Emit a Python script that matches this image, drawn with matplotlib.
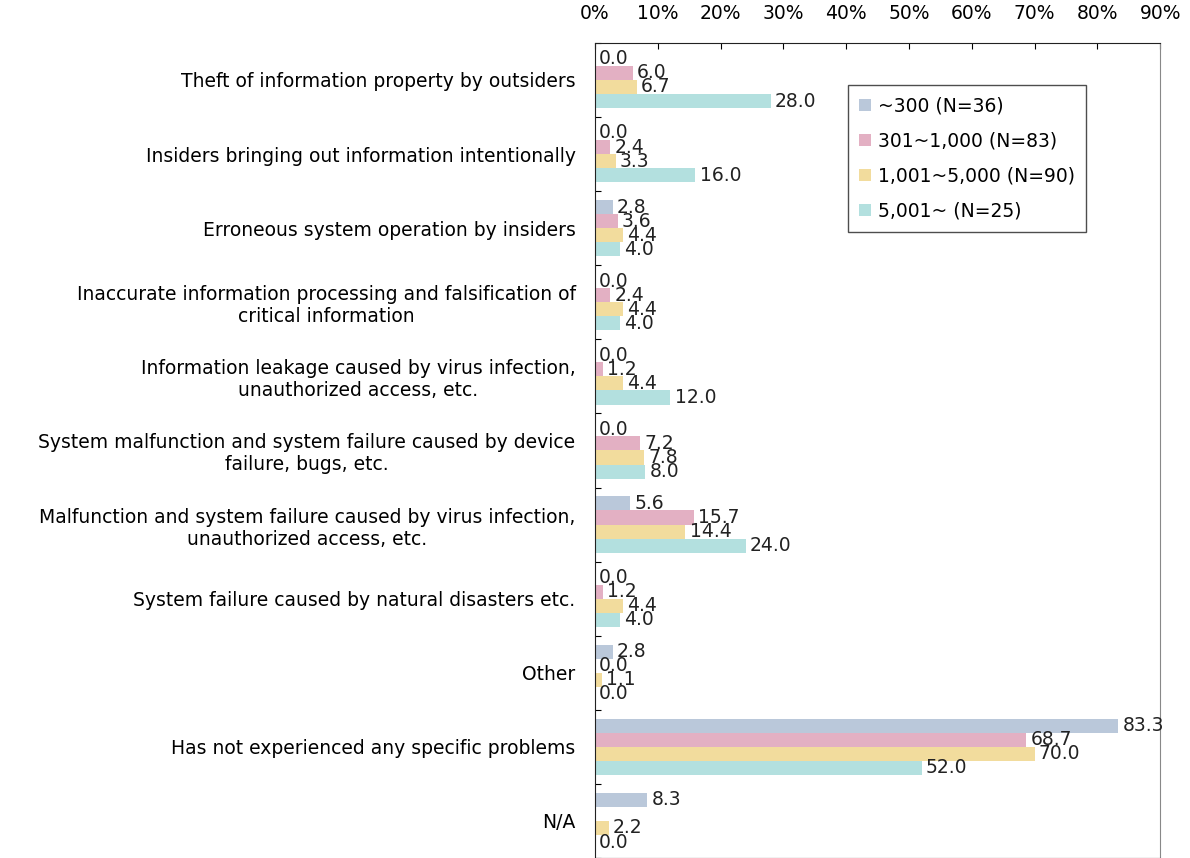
import matplotlib
matplotlib.use('Agg')
import matplotlib.pyplot as plt
import numpy as np

categories = [
    'Theft of information property by outsiders',
    'Insiders bringing out information intentionally',
    'Erroneous system operation by insiders',
    'Inaccurate information processing and falsification of\ncritical information',
    'Information leakage caused by virus infection,\nunauthorized access, etc.',
    'System malfunction and system failure caused by device\nfailure, bugs, etc.',
    'Malfunction and system failure caused by virus infection,\nunauthorized access, etc.',
    'System failure caused by natural disasters etc.',
    'Other',
    'Has not experienced any specific problems',
    'N/A',
]
series_names = ['~300 (N=36)', '301~1,000 (N=83)', '1,001~5,000 (N=90)', '5,001~ (N=25)']
s_300 = [0.0, 0.0, 2.8, 0.0, 0.0, 0.0, 5.6, 0.0, 2.8, 83.3, 8.3]
s_1000 = [6.0, 2.4, 3.6, 2.4, 1.2, 7.2, 15.7, 1.2, 0.0, 68.7, np.nan]
s_5000 = [6.7, 3.3, 4.4, 4.4, 4.4, 7.8, 14.4, 4.4, 1.1, 70.0, 2.2]
s_5001 = [28.0, 16.0, 4.0, 4.0, 12.0, 8.0, 24.0, 4.0, 0.0, 52.0, 0.0]
xticks = [0, 10, 20, 30, 40, 50, 60, 70, 80, 90]

colors = ['#bac8da', '#e3b0c3', '#f2dc9d', '#b3e0df']
series = [s_300, s_1000, s_5000, s_5001]
fs = 13.5

plt.rcParams['font.family'] = ['DejaVu Sans']
fig = plt.figure(figsize=(11.9, 8.58), dpi=100)
ax = fig.add_axes([0.5, 0.0, 0.475, 0.95])

ypos = np.arange(len(categories))
h = 0.19
offsets = [-1.5 * h, -0.5 * h, 0.5 * h, 1.5 * h]
for vals, name, col, off in zip(series, series_names, colors, offsets):
    vals = np.array(vals, dtype=float)
    ok = ~np.isnan(vals)
    ax.barh(ypos[ok] + off, vals[ok], height=h, color=col, label=name)
    for y, v in zip(ypos[ok] + off, vals[ok]):
        ax.annotate('%.1f' % v, (v, y), xytext=(3, 0), textcoords='offset points',
                    ha='left', va='center', fontsize=fs, color='#222222')

ax.set_ylim(len(categories) - 0.5, -0.5)
ax.set_xlim(0, 90)
ax.set_xticks(xticks)
ax.set_xticklabels(['%d%%' % t for t in xticks], fontsize=fs)
ax.xaxis.tick_top()
ax.tick_params(axis='x', direction='in', length=4, pad=14, top=True, bottom=False)

ax.set_yticks(np.arange(len(categories) + 1) - 0.5)
ax.set_yticklabels([])
ax.set_yticks(ypos, minor=True)
ax.set_yticklabels(categories, minor=True, fontsize=fs, multialignment='center')
ax.tick_params(axis='y', which='major', direction='in', length=4)
ax.tick_params(axis='y', which='minor', length=0, pad=14)

ax.spines['left'].set_color('#222222')
ax.spines['top'].set_color('#222222')
ax.spines['right'].set_color('#888888')

leg = ax.legend(loc='upper left', bbox_to_anchor=(0.448, 0.948), fontsize=fs,
                frameon=True, fancybox=False, edgecolor='#222222',
                handlelength=0.6, handleheight=0.6, handletextpad=0.4,
                labelspacing=0.85, borderpad=0.6, borderaxespad=0)
leg.get_frame().set_linewidth(1.0)

fig.savefig('out.png', dpi=100)
